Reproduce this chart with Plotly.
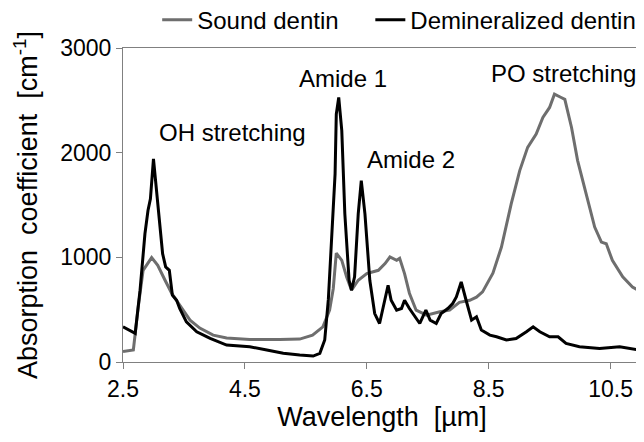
import plotly.graph_objects as go

sound_x = [2.50, 2.67, 2.75, 2.83, 2.97, 3.07, 3.19, 3.30, 3.43, 3.60, 3.76, 3.98, 4.20, 4.58, 5.07,
           5.40, 5.61, 5.78, 5.89, 5.95, 6.00, 6.09, 6.17, 6.25, 6.36, 6.50, 6.69, 6.80, 6.88, 6.99,
           7.04, 7.12, 7.20, 7.31, 7.48, 7.70, 7.86, 8.02, 8.19, 8.30, 8.40, 8.57, 8.71, 8.87, 9.01,
           9.14, 9.28, 9.39, 9.50, 9.58, 9.69, 9.75, 9.86, 9.96, 10.10, 10.24, 10.35, 10.43, 10.53,
           10.70, 10.86, 11.0]
sound_y = [100, 115, 527, 876, 997, 924, 781, 655, 543, 400, 324, 257, 229, 216, 216,
           219, 257, 336, 495, 700, 1040, 971, 813, 686, 781, 844, 876, 940, 1003, 971,
           990, 844, 657, 495, 448, 480, 495, 570, 590, 620, 670, 848, 1098, 1510, 1829,
           2051, 2178, 2337, 2432, 2559, 2527, 2510, 2241, 1924, 1606, 1289, 1146, 1130, 971,
           813, 717, 670]

demin_x = [2.50, 2.70, 2.78, 2.86, 2.91, 2.95, 3.00, 3.04, 3.10, 3.15, 3.20, 3.26, 3.31, 3.38, 3.43,
           3.54, 3.71, 3.93, 4.20, 4.58, 4.86, 5.13, 5.40, 5.62, 5.73, 5.81, 5.87, 5.92, 5.98, 6.00,
           6.04, 6.09, 6.14, 6.21, 6.25, 6.30, 6.36, 6.41, 6.47, 6.55, 6.63, 6.71, 6.80, 6.85, 6.90,
           6.99, 7.07, 7.12, 7.20, 7.29, 7.37, 7.47, 7.54, 7.64, 7.72, 7.83, 7.91, 7.97, 8.05, 8.13,
           8.22, 8.30, 8.38, 8.52, 8.63, 8.79, 8.95, 9.12, 9.23, 9.34, 9.50, 9.64, 9.77, 9.99, 10.32,
           10.65, 10.98]
demin_y = [336, 273, 686, 1225, 1448, 1559, 1940, 1702, 1321, 1035, 908, 876, 638, 590, 511,
           384, 289, 225, 162, 146, 114, 83, 67, 57, 83, 210, 600, 1162, 1797, 2368,
           2527, 2210, 1416, 781, 686, 813, 1416, 1733, 1416, 781, 463, 368, 622, 733, 590,
           495, 511, 590, 511, 432, 368, 495, 400, 368, 463, 511, 559, 622, 765, 590,
           400, 432, 305, 257, 241, 210, 225, 289, 336, 289, 241, 241, 178, 146, 130,
           146, 114]

x_ticks = [2.5, 4.5, 6.5, 8.5, 10.5]
y_ticks = [0, 1000, 2000, 3000]

labels = ["OH stretching", "Amide 1", "Amide 2", "PO stretching"]
label_x = [4.29, 6.11, 7.23, 9.72]
label_y = [2188, 2704, 1930, 2752]

FONT = "Liberation Sans, Arial, sans-serif"

fig = go.Figure()
fig.add_trace(go.Scatter(x=sound_x, y=sound_y, mode="lines", name="Sound dentin\u00a0\u00a0\u00a0\u00a0",
                         line=dict(color="#6e6e6e", width=3)))
fig.add_trace(go.Scatter(x=demin_x, y=demin_y, mode="lines", name="Demineralized dentin",
                         line=dict(color="#000000", width=3)))

for t, lx, ly in zip(labels, label_x, label_y):
    fig.add_annotation(x=lx, y=ly, text=t, showarrow=False,
                       font=dict(size=24, color="#000000", family=FONT))

axis_common = dict(showline=True, linecolor="#808080", linewidth=1, mirror=True,
                   ticks="outside", ticklen=6, tickcolor="#808080", showgrid=False,
                   zeroline=False, tickfont=dict(size=23, color="#000000", family=FONT))

fig.update_layout(
    width=636, height=426,
    margin=dict(l=115, r=3, t=40, b=72, autoexpand=False),
    paper_bgcolor="white", plot_bgcolor="white",
    font=dict(family=FONT, color="#000000"),
    showlegend=True,
    legend=dict(orientation="h", x=0.066, xanchor="left", y=1.16, yanchor="top",
                font=dict(size=24, family=FONT), bgcolor="rgba(0,0,0,0)",
                tracegroupgap=0, borderwidth=0),
    xaxis=dict(range=[2.5, 11.0], tickvals=x_ticks, ticktext=[str(v) for v in x_ticks],
               title=dict(text="Wavelength  [µm]", font=dict(size=27, family=FONT), standoff=6),
               **axis_common),
    yaxis=dict(range=[0, 3000], tickvals=y_ticks,
               title=dict(text="Absorption  coefficient  [cm<sup>-1</sup>]",
                          font=dict(size=27, family=FONT), standoff=14),
               **axis_common),
)

fig.write_html("out.html")
